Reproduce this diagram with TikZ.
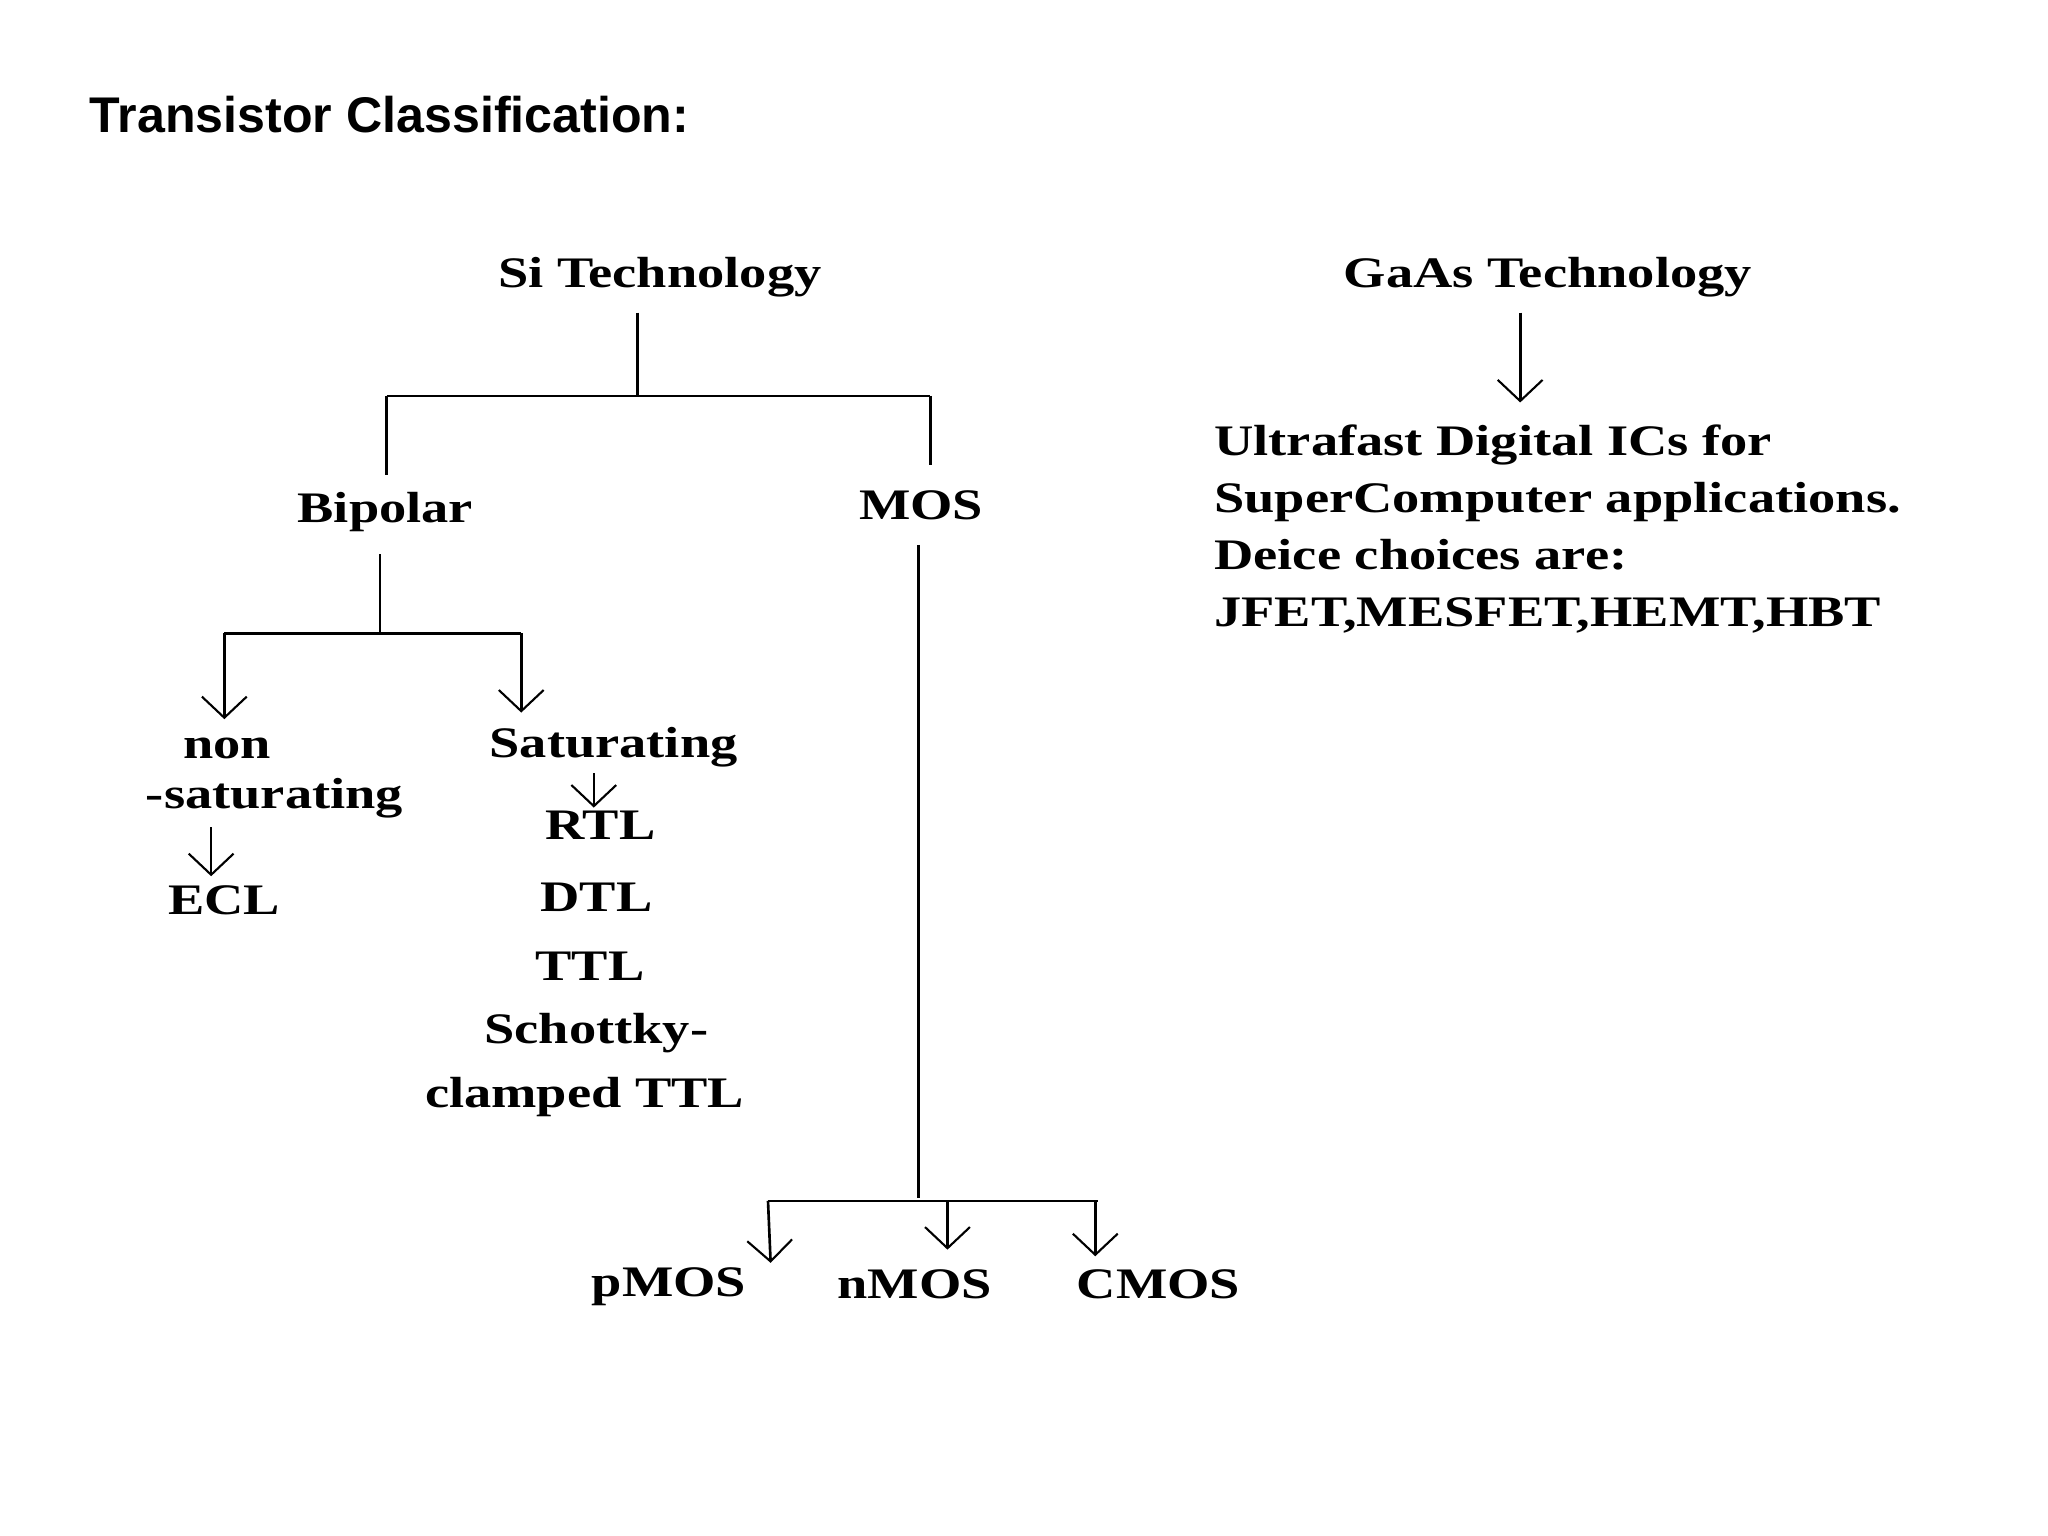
\documentclass[tikz,border=0pt]{standalone}
\usepackage{fontspec}
\setmainfont[FakeStretch=1.25]{Liberation Serif}
\newfontfamily\arialf{Liberation Sans}
\usetikzlibrary{arrows.meta}
\begin{document}
\begin{tikzpicture}[x=1pt,y=-1pt,
  lbl/.style={font=\fontsize{33}{40}\selectfont\bfseries,inner sep=0pt},
  ln/.style={line width=2pt},
  arr/.style={line width=2pt,-{Straight Barb[length=16pt,width=34pt,line width=1.6pt]}}]
\useasboundingbox (0,0) rectangle (1552,1164);
\node[anchor=west,font=\arialf\fontsize{38}{44}\selectfont\bfseries,inner sep=0pt] (title) at (68,87) {Transistor Classification:};
\node[lbl] (si) at (500,210) {Si Technology};
\node[lbl] (bip) at (292,388) {Bipolar};
\node[lbl] (mos) at (698,383) {MOS};
\node[lbl] (non) at (172,567) {non};
\node[lbl] (sat) at (208,605) {-saturating};
\node[lbl] (ecl) at (170,682) {ECL};
\node[lbl] (satg) at (465,566) {Saturating};
\node[lbl] (rtl) at (455,625) {RTL};
\node[lbl] (dtl) at (452,680) {DTL};
\node[lbl] (ttl) at (447,732) {TTL};
\node[lbl] (sch) at (452,783) {Schottky-};
\node[lbl] (cl) at (443,831) {clamped TTL};
\node[lbl] (pm) at (507,975) {pMOS};
\node[lbl] (nm) at (693,973) {nMOS};
\node[lbl] (cm) at (878,973) {CMOS};
\node[lbl] (gaas) at (1173,210) {GaAs Technology};
\node[lbl,anchor=north west,align=left,font=\fontsize{33}{43}\selectfont\bfseries] (ultra) at (920,322) {Ultrafast Digital ICs for\\SuperComputer applications.\\Deice choices are:\\JFET,MESFET,HEMT,HBT};
\coordinate (s1) at (483,237); \coordinate (s2) at (483,300);
\coordinate (hl) at (293,300); \coordinate (hr) at (705,300);
\draw[ln] (s1)--(s2); \draw[ln] (hl)--(hr);
\draw[ln] (hl)--(293,360); \draw[ln] (hr)--(705,352);
\draw[ln] (288,420)--(288,480);
\draw[ln] (170,480)--(395,480);
\draw[arr] (170,480)--(170,545);
\draw[arr] (395,480)--(395,540);
\draw[arr] (160,627)--(160,664);
\draw[arr] (450,586)--(450,612);
\draw[ln] (696,413)--(696,908);
\draw[ln] (582,910)--(832,910);
\draw[arr] (582,910)--(584,957);
\draw[arr] (718,910)--(718,947);
\draw[arr] (830,910)--(830,952);
\draw[arr] (1152,237)--(1152,305);
\end{tikzpicture}
\end{document}
